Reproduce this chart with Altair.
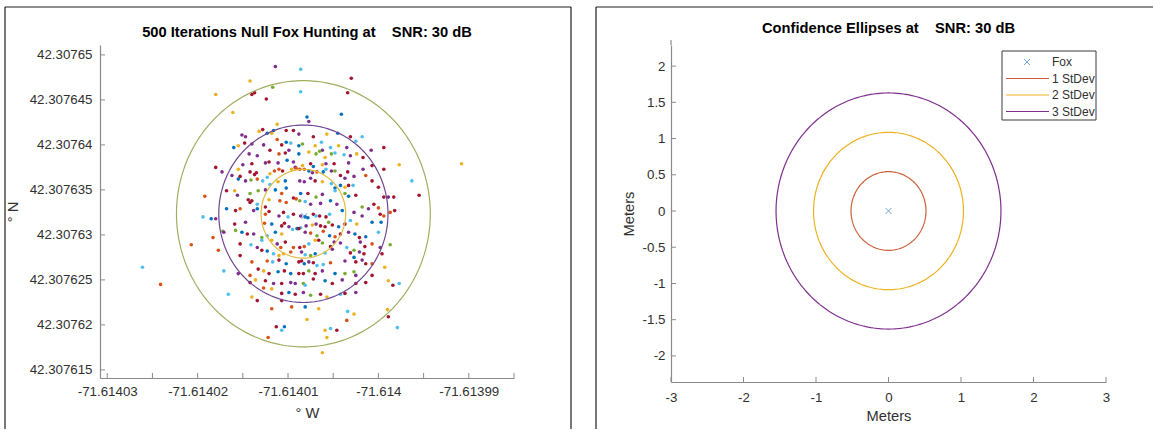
import numpy as np
import pandas as pd
import altair as alt

# ---------------- data: left panel (500 iterations) ----------------
LON0 = -71.61401          # reference longitude (deg)
LAT0 = 42.30763           # reference latitude (deg)
# offsets from the reference, in micro-degrees (1e-6 deg)
lon_off = [
    -6.1, 2.1, 5.9, 2.3, -1.2, -5.1, -4.7, -3.2, -2.8, -2.3,
    -1.8, -1.6, -0.2, 0.6, 1.2, 2.8, 4.3, 5.5, 6.9, 8.2,
    -6.0, -5.5, -4.8, -4.0, -2.7, -1.2, -0.7, -0.2, 0.3, 1.2,
    1.6, 3.0, 3.7, 3.8, 4.7, 5.6, 6.5, 7.5, 9.2, 10.6,
    -4.3, -3.4, -2.0, -1.0, -0.3, 0.1, 1.2, 2.3, 3.1, 3.5,
    4.1, 4.8, 5.2, 6.2, 6.9, 7.6, 8.3, 12.3, -8.0, -7.3,
    -5.5, -5.0, -4.0, -2.5, -2.1, -1.1, -0.1, 0.6, 0.8, 1.6,
    2.5, 2.8, 3.8, 4.2, 5.1, 5.2, 6.7, 8.3, 9.3, 10.6,
    13.7, -6.2, -4.2, -3.7, -3.5, -2.3, -2.0, -1.5, -1.0, -0.6,
    0.4, 0.9, 1.3, 1.8, 2.3, 2.7, 3.2, 3.9, 4.2, 4.8,
    5.8, 6.3, 6.6, 7.3, 8.6, 9.3, -5.5, -5.3, -4.7, -4.1,
    -3.4, -2.8, -2.0, -1.1, -0.3, 1.3, 1.8, 2.5, 3.0, 3.8,
    4.8, 5.2, 5.8, 6.3, 6.7, 7.2, 10.0, -9.2, -6.8, -5.9,
    -5.6, -4.2, -3.3, -2.5, -1.4, -0.7, -0.2, 0.6, 0.9, 1.4,
    2.2, 3.1, 3.8, 5.2, 6.3, 6.7, 7.5, 10.6, 11.1, 11.7,
    14.5, -4.4, -4.2, -4.0, -3.4, -2.5, -2.1, -0.9, -0.2, 1.3,
    1.9, 2.5, 3.6, 4.7, 5.4, 8.2, 8.9, 9.5, 10.0, 11.8,
    -6.8, -5.8, -5.3, -3.8, -3.4, -2.5, -2.1, -1.0, -0.5, 0.0,
    0.6, 1.4, 1.9, 2.2, 2.8, 3.1, 3.5, 4.2, 4.6, 6.0,
    7.3, 8.2, 10.2, 10.6, 11.3, -9.4, -8.5, -8.0, -7.2, -5.9,
    -4.7, -2.6, -1.8, -0.7, -0.4, 0.1, 1.0, 1.4, 2.0, 2.7,
    3.1, 3.6, 4.1, 4.5, 4.9, 5.6, 6.3, 6.9, 7.6, 9.3,
    10.3, -8.3, -7.1, -5.8, -5.1, -4.5, -3.8, -2.9, -2.3, -1.4,
    -0.7, 0.5, 1.2, 1.9, 2.5, 3.2, 3.9, 4.6, 5.2, 5.8,
    6.7, 7.4, 7.9, 8.6, 10.0, -7.7, -5.3, -4.1, -3.4, -2.9,
    -1.8, -1.2, -0.8, -0.3, 0.6, 1.3, 1.8, 2.3, 3.0, 3.4,
    3.8, 4.7, 5.1, 5.8, 6.5, 8.0, 8.5, 9.3, 10.2, 11.3,
    -2.9, -2.3, -1.6, -1.0, -0.5, 0.3, 1.5, 1.9, 2.5, 3.0,
    4.1, 4.9, 6.9, 7.3, 7.9, 8.4, 10.4, -7.1, -5.3, -4.0,
    -2.3, -1.7, -1.0, -0.2, 1.2, 1.5, 1.8, 2.3, 2.8, 3.2,
    3.9, 4.7, 6.3, 7.3, 7.5, 8.2, 8.6, 9.3, -5.5, -4.2,
    -3.3, -2.7, -2.1, -1.1, -0.4, 0.3, 1.2, 1.7, 2.3, 3.0,
    3.8, 5.2, 6.3, 7.3, 7.5, 9.3, 10.7, 12.3, -4.2, -3.6,
    -2.5, -1.6, -0.7, 0.3, 0.8, 1.7, 1.9, 2.8, 4.1, 4.9,
    6.0, 7.5, 8.6, 11.1, 11.6, -6.6, -4.0, -2.7, -1.8, -0.7,
    0.1, 0.8, 1.7, 2.5, 3.6, 4.3, 5.8, 6.3, 7.5, -3.4,
    -0.7, -1.8, 0.4, 1.9, 3.4, 6.6, 7.3, 2.1, -1.3, -0.4,
    -0.7, 4.1, 4.7, 5.4, 6.5, 11.1, 11.0, 12.1, -2.2, 4.3,
    -1.4, 1.4, 7.0, -4.2, -1.7, -8.0, -4.0, -3.7, -2.4, 1.4,
    6.6, 19.2, -10.7, -16.1, -14.1, 3.8,
]
lat_off = [
    13.6, 13.1, 13.4, 12.6, 12.3, 11.1, 10.9, 11.5, 11.7, 11.3,
    11.3, 11.6, 11.6, 11.6, 11.2, 10.9, 11.2, 11.3, 10.9, 10.9,
    9.7, 9.9, 10.2, 10.1, 10.0, 10.6, 10.0, 10.3, 10.2, 9.9,
    10.1, 9.9, 10.3, 9.4, 9.7, 9.9, 9.7, 10.4, 9.4, 9.7,
    9.0, 8.8, 9.4, 9.0, 9.1, 9.4, 9.0, 9.2, 9.0, 9.3,
    8.6, 9.0, 9.1, 8.9, 8.8, 9.0, 8.6, 7.8, 7.5, 7.0,
    7.3, 7.8, 7.9, 8.0, 8.1, 8.0, 8.3, 8.1, 7.5, 7.7,
    7.9, 7.6, 7.8, 7.9, 7.9, 7.1, 8.0, 7.3, 7.7, 7.3,
    6.0, 6.6, 7.0, 6.7, 6.9, 6.4, 6.8, 7.1, 7.3, 7.1,
    7.3, 7.4, 7.3, 7.3, 7.1, 6.9, 7.0, 7.0, 7.3, 7.1,
    6.6, 6.3, 7.0, 6.5, 6.6, 6.0, 6.2, 6.5, 6.0, 6.1,
    6.2, 6.0, 5.6, 5.9, 6.0, 6.0, 5.9, 6.3, 6.0, 5.9,
    5.7, 5.2, 5.5, 5.3, 5.5, 5.5, 5.3, 4.3, 4.9, 4.9,
    4.4, 4.6, 4.9, 5.0, 5.0, 4.6, 5.2, 4.1, 4.0, 4.6,
    4.6, 4.2, 4.5, 4.9, 4.6, 4.3, 4.4, 4.2, 4.2, 4.2,
    4.4, 3.9, 3.6, 3.8, 3.4, 3.1, 3.9, 3.8, 3.6, 3.8,
    3.7, 3.4, 3.5, 3.8, 3.4, 3.1, 2.9, 3.4, 3.0, 2.7,
    2.9, 2.7, 2.9, 2.7, 2.9, 2.3, 2.6, 2.1, 2.5, 2.0,
    2.3, 2.1, 2.0, 1.9, 2.3, 2.1, 2.1, 2.0, 2.3, 2.7,
    2.5, 2.1, 2.3, 2.1, 2.5, 2.0, 1.8, 1.8, 0.4, 1.2,
    1.4, 1.3, 1.2, 1.0, 1.3, 0.9, 0.7, 0.8, 1.0, 1.1,
    1.2, 1.0, 0.9, 1.4, 1.1, 0.9, 1.2, 1.6, 1.2, 1.4,
    1.4, -0.3, 0.3, 0.5, 0.3, 0.1, 0.1, -0.3, -0.1, 0.3,
    0.1, 0.6, 0.7, 0.3, 0.2, -0.1, 0.4, -0.1, -0.2, 0.1,
    0.3, 0.1, -0.3, -0.2, 0.3, -1.7, -1.0, -1.1, -1.4, -0.6,
    -0.6, -1.0, -1.4, -0.8, -1.4, -1.4, -1.3, -1.0, -0.6, -0.6,
    -0.9, -1.3, -0.8, -0.9, -1.4, -0.8, -1.3, -1.0, -1.4, -1.1,
    -1.7, -1.8, -2.1, -2.3, -2.1, -1.9, -1.9, -2.2, -2.3, -2.1,
    -2.0, -1.6, -2.0, -1.7, -1.9, -2.1, -2.1, -4.0, -2.3, -3.0,
    -2.9, -3.0, -2.8, -3.2, -3.0, -2.9, -3.2, -3.0, -3.1, -3.4,
    -3.3, -3.1, -2.9, -2.5, -3.0, -2.8, -3.2, -3.2, -4.3, -4.5,
    -3.8, -4.0, -4.3, -4.1, -4.0, -4.3, -4.3, -4.3, -4.0, -4.3,
    -4.0, -4.3, -4.3, -4.1, -4.5, -4.5, -3.6, -5.4, -5.3, -5.0,
    -5.1, -5.4, -5.4, -5.3, -5.4, -5.4, -5.6, -4.9, -5.1, -5.4,
    -5.0, -5.4, -5.3, -5.1, -5.6, -6.6, -6.9, -5.9, -6.0, -6.5,
    -6.4, -6.6, -6.4, -6.7, -6.6, -6.9, -6.6, -6.5, -6.4, -7.3,
    -7.3, -8.2, -8.0, -8.0, -8.2, -8.5, -8.8, -9.4, -10.2, -10.2,
    -10.6, -10.6, -10.4, -10.6, -9.5, -9.1, -8.3, -10.3, -11.4, -11.4,
    18.7, 18.4, 17.4, 17.1, 16.4, 15.6, 15.6, 15.8, 15.1, 15.9,
    15.8, 7.9, -1.1, -3.6, -5.5, -13.1,
]
pt_code = """
Y B B P Y P P Y R B  Y B R R P R Y B R C  B Y R P P O R B C B  G Y C P C Y P C P R
P P R O R P B Y G G  Y G C C P Y R Y R P  Y P R P R P B P P Y  R B Y P R G P P R R
C P R R R C Y O O R  Y O O O B P O B C P  R P R P O R B R P G  O C C Y B P P P R Y
C B B Y R C R O R Y  P G G P B O B R O B  R G P C G B R R P R  R R R R C R Y O O G
C P P B P G P R O R  B R O P B O R P R C  R P B B R C R R C B  P P R O O C B P G R
P O B R R P B C P Y  P R R G R B R C Y B  B O P G B R P G C B  Y C R P O G O B O R
P B R B C O R C P C  Y P O R O R O C Y R  G R P P C P R O P G  R B C Y Y O P C G B
C P R G P R R C R O  O C R B R R B P R C  C O P B R P R O P O  R Y R B R B R R G R
P B G G P R Y C R Y  R P R P P G C R B R  P R R Y R C Y O Y R  B R P G R Y C R P R
R O O B Y C Y Y R B  C Y C R O R Y C O Y  P C R Y G Y R R R C  R Y O C O Y
""".split()
color_codes = ["B", "O", "Y", "P", "G", "C", "R"]
color_hex = ["#0072BD", "#D95319", "#EDB120", "#7E2F8E", "#77AC30", "#4DBEEE", "#A2142F"]

# confidence rings on the left panel (micro-degree offsets)
ring_sd = [1, 2, 3]
ring_rx = [4.68, 9.36, 14.04]
ring_ry = [4.93, 9.86, 14.79]
ring_center = [1.7, 2.35]
ring_colors = ["#E0B93F", "#6E4590", "#A2AC5E"]
left_fox_off = [1.8, 2.1]

x_label_vals = [-71.61403, -71.61402, -71.61401, -71.614, -71.61399]
x_tick_vals = [-71.61403, -71.614025, -71.61402, -71.614015, -71.61401,
               -71.614005, -71.614, -71.613995, -71.61399, -71.613985]
y_tick_vals = [42.307615, 42.30762, 42.307625, 42.30763,
               42.307635, 42.30764, 42.307645, 42.30765]
left_title = "500 Iterations Null Fox Hunting at\u00a0\u00a0\u00a0\u00a0SNR: 30 dB"

# ---------------- data: right panel ----------------
ell_labels = ["1 StDev", "2 StDev", "3 StDev"]
ell_a = [0.517, 1.034, 1.551]
ell_b = [0.543, 1.086, 1.629]
ell_colors = ["#C8613A", "#EDB120", "#7E2F8E"]
fox_xy = [0.0, 0.0]
r_x_ticks = [-3, -2, -1, 0, 1, 2, 3]
r_y_ticks = [-2, -1.5, -1, -0.5, 0, 0.5, 1, 1.5, 2]
legend_labels = ["Fox", "1 StDev", "2 StDev", "3 StDev"]
right_title = "Confidence Ellipses at\u00a0\u00a0\u00a0\u00a0SNR: 30 dB"

# ---------------- styling ----------------
FONT = "Liberation Sans"
AXC = "#8a8a8a"
TXT = "#303030"
FRAME = "#1e1e1e"
FOXC = "#3f80c0"
XMARK = "M-1,-1L1,1M1,-1L-1,1"
W1, H1 = 414, 333
W2, H2 = 435, 337
dummy = pd.DataFrame({"d": [0]})

ax_common = dict(ticks=False, grid=False, domainColor=AXC, domainWidth=1.2,
                 labelColor=TXT, titleColor=TXT, labelOverlap=False, labelFlush=False,
                 labelExpr="'' + datum.value", labelFont=FONT, titleFont=FONT,
                 labelFontSize=13.3, titleFontSize=14.7, titleFontWeight="normal")

# ---------------- left panel ----------------
pts = pd.DataFrame({
    "lon": [LON0 + v * 1e-6 for v in lon_off],
    "lat": [LAT0 + v * 1e-6 for v in lat_off],
    "c": pt_code,
})
theta = np.linspace(0, 2 * np.pi, 241)
ring_rows = []
for k, rx, ry in zip(ring_sd, ring_rx, ring_ry):
    for i, a in enumerate(theta):
        ring_rows.append({"k": k, "i": i,
                          "lon": LON0 + (ring_center[0] + rx * np.cos(a)) * 1e-6,
                          "lat": LAT0 + (ring_center[1] + ry * np.sin(a)) * 1e-6})
rings = pd.DataFrame(ring_rows)

xs1 = alt.Scale(domain=[-71.6140308, -71.613985], zero=False, nice=False)
ys1 = alt.Scale(domain=[42.3076141, 42.3076511], zero=False, nice=False)
ax_x1 = alt.Axis(values=x_label_vals, title="° W", labelPadding=6, titlePadding=8, **ax_common)
ax_y1 = alt.Axis(values=y_tick_vals, title="° N", labelPadding=8, titlePadding=9, **ax_common)

pts_layer = alt.Chart(pts).mark_circle(size=13, opacity=1).encode(
    x=alt.X("lon:Q", scale=xs1, axis=ax_x1),
    y=alt.Y("lat:Q", scale=ys1, axis=ax_y1),
    color=alt.Color("c:N", scale=alt.Scale(domain=color_codes, range=color_hex), legend=None),
)
ring_layer = alt.Chart(rings).mark_line(strokeWidth=1.2).encode(
    x=alt.X("lon:Q", scale=xs1, axis=ax_x1),
    y=alt.Y("lat:Q", scale=ys1, axis=ax_y1),
    stroke=alt.Stroke("k:N", scale=alt.Scale(domain=ring_sd, range=ring_colors), legend=None),
    order="i:Q",
)
lfox = pd.DataFrame({"lon": [LON0 + left_fox_off[0] * 1e-6], "lat": [LAT0 + left_fox_off[1] * 1e-6]})
lfox_layer = alt.Chart(lfox).mark_point(shape=XMARK, size=36, filled=False,
                                         strokeWidth=1, color=FOXC).encode(
    x=alt.X("lon:Q", scale=xs1, axis=ax_x1), y=alt.Y("lat:Q", scale=ys1, axis=ax_y1))
lxt = alt.Chart(pd.DataFrame({"lon": x_tick_vals})).mark_rule(color=AXC, strokeWidth=1).encode(
    x=alt.X("lon:Q", scale=xs1, axis=ax_x1), y=alt.value(H1), y2=alt.value(H1 - 5))
lyt = alt.Chart(pd.DataFrame({"lat": y_tick_vals})).mark_rule(color=AXC, strokeWidth=1).encode(
    y=alt.Y("lat:Q", scale=ys1, axis=ax_y1), x=alt.value(0), x2=alt.value(5))


def hrule(x1, x2, y, color=FRAME, w=1.2):
    return alt.Chart(dummy).mark_rule(color=color, strokeWidth=w).encode(
        x=alt.value(x1), x2=alt.value(x2), y=alt.value(y))


def vrule(x, y1, y2, color=FRAME, w=1.2):
    return alt.Chart(dummy).mark_rule(color=color, strokeWidth=w).encode(
        x=alt.value(x), y=alt.value(y1), y2=alt.value(y2))


def title_text(txt, x, y):
    return alt.Chart(dummy).mark_text(
        text=txt, align="center", baseline="middle", fontSize=14.7, fontWeight="bold",
        color="#000000", font=FONT).encode(x=alt.value(x), y=alt.value(y))


left = alt.layer(
    pts_layer, ring_layer, lfox_layer, lxt, lyt,
    title_text(left_title, W1 / 2, -12),
    hrule(-95, 471, -38), vrule(-95, -38, 384), vrule(471, -38, 384),
).properties(width=W1, height=H1)

# ---------------- right panel ----------------
ell_rows = []
for lab, a_, b_ in zip(ell_labels, ell_a, ell_b):
    for i, a in enumerate(theta):
        ell_rows.append({"s": lab, "i": i, "x": a_ * np.cos(a), "y": b_ * np.sin(a)})
ells = pd.DataFrame(ell_rows)

xs2 = alt.Scale(domain=[-3, 3], zero=False, nice=False)
ys2 = alt.Scale(domain=[-2.36, 2.291], zero=False, nice=False)
ax_x2 = alt.Axis(values=r_x_ticks, title="Meters", labelPadding=8, titlePadding=5, **ax_common)
ax_y2 = alt.Axis(values=r_y_ticks, title="Meters", labelPadding=6, titlePadding=6, **ax_common)

ell_layer = alt.Chart(ells).mark_line(strokeWidth=1.2).encode(
    x=alt.X("x:Q", scale=xs2, axis=ax_x2),
    y=alt.Y("y:Q", scale=ys2, axis=ax_y2),
    stroke=alt.Stroke("s:N", scale=alt.Scale(domain=ell_labels, range=ell_colors), legend=None),
    order="i:Q",
)
rfox_layer = alt.Chart(pd.DataFrame({"x": [fox_xy[0]], "y": [fox_xy[1]]})).mark_point(
    shape=XMARK, size=36, filled=False, strokeWidth=1, color=FOXC).encode(
    x=alt.X("x:Q", scale=xs2, axis=ax_x2), y=alt.Y("y:Q", scale=ys2, axis=ax_y2))
rxt = alt.Chart(pd.DataFrame({"x": r_x_ticks})).mark_rule(color=AXC, strokeWidth=1).encode(
    x=alt.X("x:Q", scale=xs2, axis=ax_x2), y=alt.value(H2), y2=alt.value(H2 - 5))
ryt = alt.Chart(pd.DataFrame({"y": r_y_ticks})).mark_rule(color=AXC, strokeWidth=1).encode(
    y=alt.Y("y:Q", scale=ys2, axis=ax_y2), x=alt.value(0), x2=alt.value(5))

# legend (box + entries)
leg_parts = [
    alt.Chart(dummy).mark_rect(fill="white", stroke="#3a3a3a", strokeWidth=1).encode(
        x=alt.value(331), x2=alt.value(425), y=alt.value(6), y2=alt.value(75))
]
row_y = [17, 33.5, 50, 66.5]
leg_colors = [FOXC] + ell_colors
for i, lab in enumerate(legend_labels):
    if i == 0:
        leg_parts.append(alt.Chart(dummy).mark_point(
            shape=XMARK, size=36, filled=False, strokeWidth=1, color=FOXC).encode(
            x=alt.value(356), y=alt.value(row_y[i])))
    else:
        leg_parts.append(alt.Chart(dummy).mark_rule(color=leg_colors[i], strokeWidth=1.2).encode(
            x=alt.value(335), x2=alt.value(378), y=alt.value(row_y[i])))
    leg_parts.append(alt.Chart(dummy).mark_text(
        text=lab, align="left", baseline="middle", fontSize=12, color=TXT, font=FONT).encode(
        x=alt.value(381), y=alt.value(row_y[i])))

right = alt.layer(
    ell_layer, rfox_layer, rxt, ryt, *leg_parts,
    vrule(0, -5, 0, color=AXC, w=1.2),
    title_text(right_title, W2 / 2, -16),
    hrule(-75, 482, -38), vrule(-75, -38, 384),
).properties(width=W2, height=H2)

chart = alt.hconcat(left, right, spacing=23).resolve_scale(
    color="independent", stroke="independent"
).properties(
    padding={"left": 4, "top": 6, "right": 0, "bottom": 0},
    background="white",
).configure(font=FONT).configure_view(stroke=None)

chart.save("out.html", embed_options={"renderer": "svg", "actions": False})
